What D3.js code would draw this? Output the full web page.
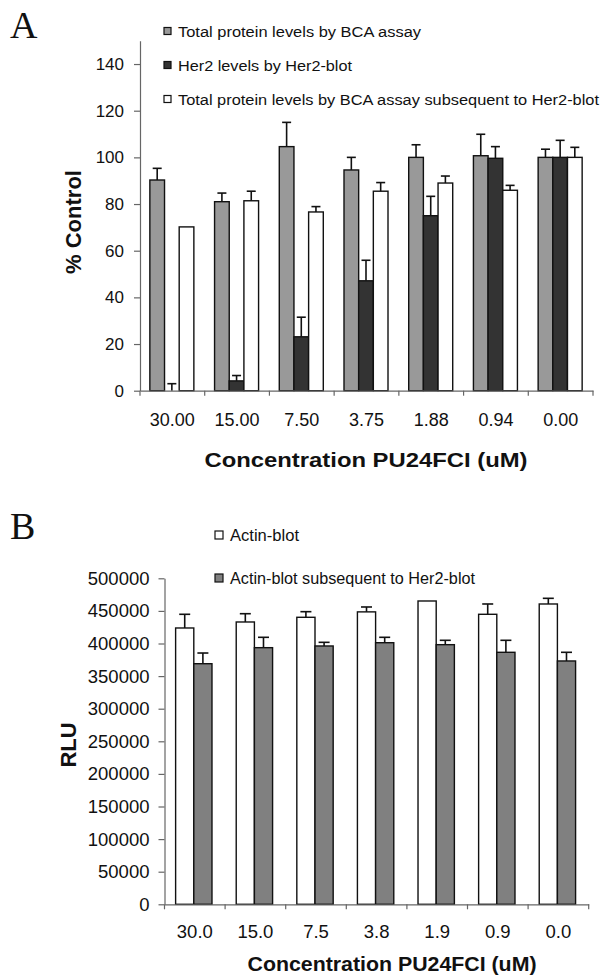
<!DOCTYPE html>
<html>
<head>
<meta charset="utf-8">
<script src="https://cdn.jsdelivr.net/npm/d3@7"></script>
<style>
  html, body { margin: 0; padding: 0; background: #fff; }
  svg { display: block; }
  text { font-family: "Liberation Sans", Arial, sans-serif; fill: #111; }
</style>
</head>
<body>
<svg id="chart" width="603" height="976"></svg>
<script>
// ---------- Panel A data ----------
const categoriesA = ["30.00", "15.00", "7.50", "3.75", "1.88", "0.94", "0.00"];
const seriesNamesA = [
  "Total protein levels by BCA assay",
  "Her2 levels by Her2-blot",
  "Total protein levels by BCA assay subsequent to Her2-blot"
];
const bcaTotal     = [90.3, 81.0, 104.6, 94.6, 100.0, 100.7, 100.0];
const bcaTotalErr  = [5.0, 3.7, 10.4, 5.4, 5.4, 9.2, 3.5];
const her2Blot     = [0.0, 4.2, 23.1, 47.1, 75.0, 99.6, 100.0];
const her2BlotErr  = [3.0, 2.3, 8.4, 8.8, 8.3, 5.0, 7.3];
const bcaAfter     = [70.2, 81.4, 76.6, 85.5, 89.0, 85.9, 100.0];
const bcaAfterErr  = [0.0, 4.1, 2.3, 3.7, 3.0, 2.1, 4.3];
const yTicksA = [0, 20, 40, 60, 80, 100, 120, 140];

// ---------- Panel B data ----------
const categoriesB = ["30.0", "15.0", "7.5", "3.8", "1.9", "0.9", "0.0"];
const seriesNamesB = ["Actin-blot", "Actin-blot subsequent to Her2-blot"];
const actin         = [423800, 433000, 440200, 448500, 465200, 444800, 460600];
const actinErr      = [21000, 12700, 8600, 7500, 0, 15800, 8700];
const actinAfter    = [369000, 393600, 396200, 401200, 398200, 386500, 373200];
const actinAfterErr = [16400, 15900, 5600, 8300, 6700, 18400, 13300];
const yTicksB = [0, 50000, 100000, 150000, 200000, 250000, 300000, 350000, 400000, 450000, 500000];

const xTitle = "Concentration PU24FCI (uM)";

const svg = d3.select("#chart");
const AXIS = "#666";

function drawPanel(cfg) {
  const g = svg.append("g");
  const x = d3.scaleBand().domain(cfg.categories).range(cfg.xRange).padding(0);
  const y = d3.scaleLinear().domain(cfg.yDomain).range(cfg.yRange);
  const groupW = x.bandwidth() * cfg.groupFrac;
  const off = (x.bandwidth() - groupW) / 2 + cfg.shift;
  const sub = d3.scaleBand().domain(cfg.series.map((s, i) => i)).range([0, groupW]);

  // bars
  cfg.series.forEach((s, si) => {
    const data = cfg.categories.map((c, i) => ({c, v: s.values[i], e: s.errs[i]}));
    g.append("g").selectAll("rect").data(data).join("rect")
      .attr("x", d => x(d.c) + off + sub(si))
      .attr("y", d => y(d.v))
      .attr("width", sub.bandwidth())
      .attr("height", d => y(0) - y(d.v))
      .attr("fill", s.color)
      .attr("stroke", "#111")
      .attr("stroke-width", 1.4);
    const eg = g.append("g").attr("stroke", "#111").attr("stroke-width", 1.6);
    data.filter(d => d.e > 0).forEach(d => {
      const cx = x(d.c) + off + sub(si) + sub.bandwidth() / 2;
      eg.append("line").attr("x1", cx).attr("x2", cx).attr("y1", y(d.v)).attr("y2", y(d.v + d.e));
      eg.append("line").attr("x1", cx - cfg.cap / 2).attr("x2", cx + cfg.cap / 2)
        .attr("y1", y(d.v + d.e)).attr("y2", y(d.v + d.e));
    });
  });

  // y axis
  const ya = g.append("g").attr("transform", `translate(${cfg.xRange[0]},0)`)
    .call(d3.axisLeft(y).tickValues(cfg.yTicks).tickFormat(d3.format("d"))
      .tickSize(6).tickSizeOuter(0).tickPadding(cfg.yPad));
  ya.selectAll("path, line").attr("stroke", AXIS).attr("stroke-width", 1.2);
  ya.selectAll("text").style("font-size", cfg.yFont + "px").attr("fill", "#111");

  // x axis
  const xa = g.append("g").attr("transform", `translate(0,${y(0)})`)
    .call(d3.axisBottom(x).tickSize(0).tickSizeOuter(0).tickPadding(cfg.xPad));
  xa.selectAll("path").attr("stroke", AXIS).attr("stroke-width", 1.2);
  xa.selectAll("text").style("font-size", cfg.xFont + "px").attr("fill", "#111");
  const bounds = cfg.categories.map(c => x(c)).concat([x(cfg.categories[cfg.categories.length - 1]) + x.bandwidth()]);
  g.append("g").selectAll("line").data(bounds).join("line")
    .attr("x1", d => d).attr("x2", d => d)
    .attr("y1", y(0)).attr("y2", y(0) + 5)
    .attr("stroke", AXIS).attr("stroke-width", 1.2);

  // titles
  g.append("text").attr("x", cfg.xTitleX).attr("y", cfg.xTitleY)
    .attr("text-anchor", "middle").style("font-size", cfg.xTitleFont + "px").style("font-weight", "bold")
    .attr("textLength", cfg.xTitleLen).attr("lengthAdjust", "spacingAndGlyphs")
    .text(xTitle);
  g.append("text").attr("transform", `translate(${cfg.yTitleX},${cfg.yTitleY}) rotate(-90)`)
    .attr("text-anchor", "middle").style("font-size", cfg.yTitleFont + "px").style("font-weight", "bold")
    .text(cfg.yTitle);

  // panel letter
  g.append("text").attr("x", 10).attr("y", cfg.letterY)
    .style("font-family", "'Liberation Serif', 'Times New Roman', serif")
    .style("font-size", "38px").text(cfg.letter);

  // legend
  cfg.series.forEach((s, si) => {
    const cy = cfg.legendY[si];
    g.append("rect").attr("x", cfg.legendX).attr("y", cy - cfg.legendBox / 2)
      .attr("width", cfg.legendBox).attr("height", cfg.legendBox)
      .attr("fill", s.color).attr("stroke", "#111").attr("stroke-width", 1.2);
    g.append("text").attr("x", cfg.legendX + cfg.legendBox + 7).attr("y", cy).attr("dy", "0.36em")
      .style("font-size", cfg.legendFont + "px")
      .attr("textLength", s.len).attr("lengthAdjust", "spacingAndGlyphs")
      .text(s.name);
  });
}

drawPanel({
  letter: "A", letterY: 38,
  categories: categoriesA,
  xRange: [140, 593], yDomain: [0, 150], yRange: [390.7, 40.7],
  yTicks: yTicksA, groupFrac: 0.68, shift: -0.5, cap: 9,
  series: [
    {name: seriesNamesA[0], values: bcaTotal, errs: bcaTotalErr, color: "#999999", len: 243},
    {name: seriesNamesA[1], values: her2Blot, errs: her2BlotErr, color: "#333333", len: 174},
    {name: seriesNamesA[2], values: bcaAfter, errs: bcaAfterErr, color: "#ffffff", len: 421}
  ],
  yPad: 10, yFont: 17, xPad: 23, xFont: 18,
  xTitleX: 366, xTitleY: 467, xTitleFont: 21, xTitleLen: 323,
  yTitle: "% Control", yTitleX: 81, yTitleY: 222, yTitleFont: 22,
  legendX: 164, legendBox: 7, legendY: [31, 65, 99], legendFont: 15.5
});

drawPanel({
  letter: "B", letterY: 539,
  categories: categoriesB,
  xRange: [164.5, 588.7], yDomain: [0, 500000], yRange: [904.3, 578.3],
  yTicks: yTicksB, groupFrac: 0.6, shift: -1, cap: 11,
  series: [
    {name: seriesNamesB[0], values: actin, errs: actinErr, color: "#ffffff", len: 69},
    {name: seriesNamesB[1], values: actinAfter, errs: actinAfterErr, color: "#808080", len: 245}
  ],
  yPad: 9, yFont: 18.5, xPad: 21, xFont: 18.5,
  xTitleX: 392, xTitleY: 971, xTitleFont: 21, xTitleLen: 289,
  yTitle: "RLU", yTitleX: 76, yTitleY: 745, yTitleFont: 22,
  legendX: 215, legendBox: 8, legendY: [535, 578], legendFont: 16
});
</script>
</body>
</html>
